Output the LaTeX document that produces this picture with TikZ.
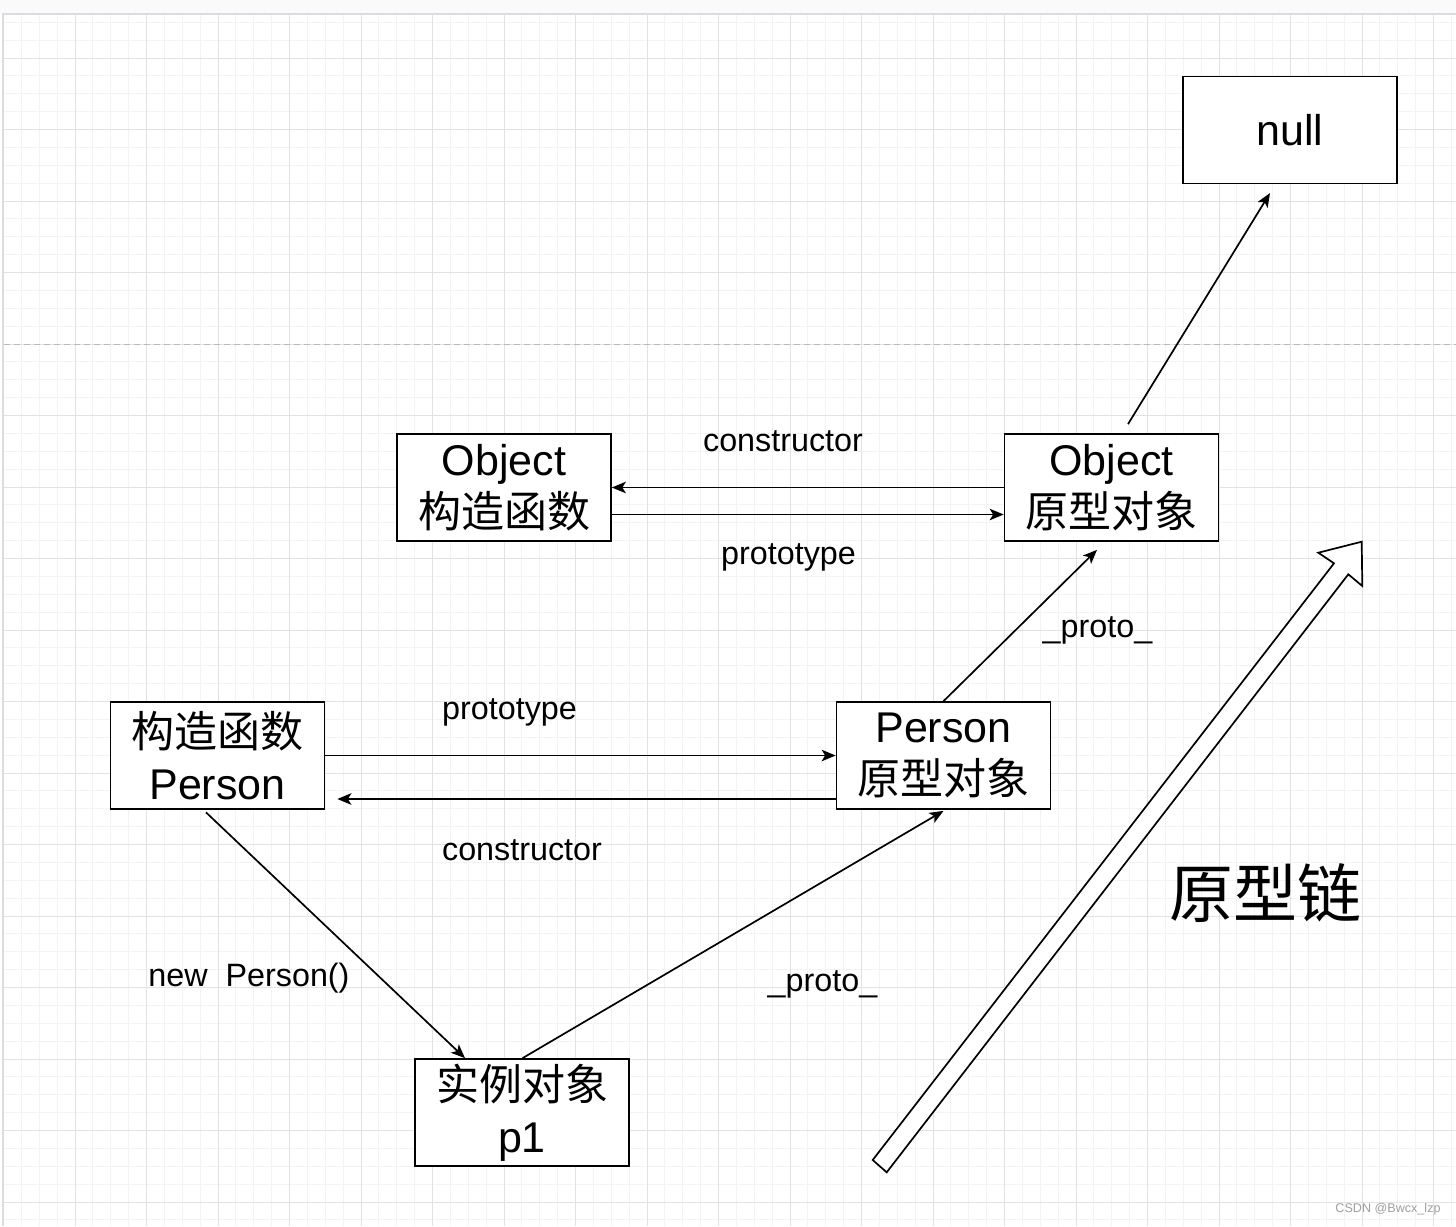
\documentclass[tikz,border=0pt]{standalone}
\usepackage{fontspec}
\setmainfont{Liberation Sans}
\newfontfamily\cjk{Noto Sans CJK SC}
\usetikzlibrary{arrows.meta}
\definecolor{minorc}{HTML}{F3F3F3}
\definecolor{majorc}{HTML}{E2E2E2}
\definecolor{edgec}{HTML}{DCDCE0}
\definecolor{topc}{HTML}{FAFAFB}
\begin{document}
\begin{tikzpicture}[x=1pt,y=-1pt,
 box/.style={draw=black, line width=1.7pt, fill=white, minimum width=214pt, minimum height=107pt, inner sep=0pt, align=center, font=\fontsize{43}{51.5}\selectfont},
 lbl/.style={anchor=base, inner sep=0pt, font=\fontsize{32.3}{36}\selectfont},
 conn/.style={line width=1.7pt, -{Stealth[length=14pt,width=11.5pt,inset=3.5pt]}},
 minorg/.style={draw=minorc, line width=1pt},
 majorg/.style={draw=majorc, line width=1pt},
]
\useasboundingbox (0,0) rectangle (1456,1226);
\fill[white] (0,0) rectangle (1456,1226);
\fill[topc] (0,0) rectangle (1456,14);
% grid
\foreach \i [evaluate=\i as \xx using 3.5+\i*17.875] in {0,...,81}
  \draw[minorg] (\xx,14) -- (\xx,1226);
\foreach \j [evaluate=\j as \yy using 58+\j*17.875] in {-2,...,65}
  \draw[minorg] (3.5,\yy) -- (1456,\yy);
\foreach \i [evaluate=\i as \xx using 3.5+\i*17.875] in {4,8,...,80}
  \draw[majorg] (\xx,14) -- (\xx,1226);
\foreach \j [evaluate=\j as \yy using 58+\j*17.875] in {0,4,...,64}
  \draw[majorg] (3.5,\yy) -- (1456,\yy);
\draw[edgec, line width=1.5pt] (3,1226) -- (3,14) -- (1456,14);
% dashed separator
\draw[color=gray!55, line width=1.2pt, dash pattern=on 6pt off 4pt] (3.5,344.5) -- (1456,344.5);

% boxes
\node[box] (null) at (1290,130) {null};
\node[box] (objc) at (504,487.5) {Object\\{\cjk 构造函数}};
\node[box] (objp) at (1111.5,487.5) {Object\\{\cjk 原型对象}};
\node[box] (perc) at (217.5,755.5) {{\cjk 构造函数}\\Person};
\node[box] (perp) at (943.5,755.5) {Person\\{\cjk 原型对象}};
\node[box] (p1) at (522,1112.5) {{\cjk 实例对象}\\p1};

% connectors
\draw[conn] ([shift={(16.5,-9)}]objp.north) -- ([shift={(-20,8.7)}]null.south);
\draw[conn] (objp.west) -- (objc.east);
\draw[conn] ([shift={(0,27)}]objc.east) -- ([shift={(0,27)}]objp.west);
\draw[conn] (perp.north) -- ([shift={(-14.5,8)}]objp.south);
\draw[conn] (perc.east) -- (perp.west);
\draw[conn] ([shift={(0,43.5)}]perp.west) -- ([shift={(12,43.5)}]perc.east);
\draw[conn] ([shift={(-11.5,2.5)}]perc.south) -- ([shift={(-57,0)}]p1.north);
\draw[conn] ([shift={(0.5,0)}]p1.north) -- ([shift={(0,1)}]perp.south);

% labels
\node[lbl] (l1) at (783,451) {constructor};
\node[lbl] (l2) at (788.5,564) {prototype};
\node[lbl] (l3) at (1097.5,637) {\_proto\_};
\node[lbl] (l4) at (509.5,719) {prototype};
\node[lbl] (l5) at (522,860) {constructor};
\node[lbl] (l6) at (249,986) {new\ \ Person()};
\node[lbl] (l7) at (822.5,991.5) {\_proto\_};

% big hollow arrow
\coordinate (ta) at (872.7,1160);
\coordinate (tb) at (886.7,1172.3);
\draw[line width=1.7pt, fill=white, line join=miter]
  (ta) -- (1334,563.3) -- (1318.3,552.7) -- (1361.7,541.7) -- (1362.3,586) -- (1348.3,574.3) -- (tb) -- cycle;
\node[font=\cjk\fontsize{64}{70}\selectfont, inner sep=0pt] (chain) at (1265,893) {原型链};

% watermark
\node[text=gray!75, font=\fontsize{12.6}{14}\selectfont, inner sep=0pt] (wm) at (1388,1209) {CSDN @Bwcx\_lzp};
\end{tikzpicture}
\end{document}
